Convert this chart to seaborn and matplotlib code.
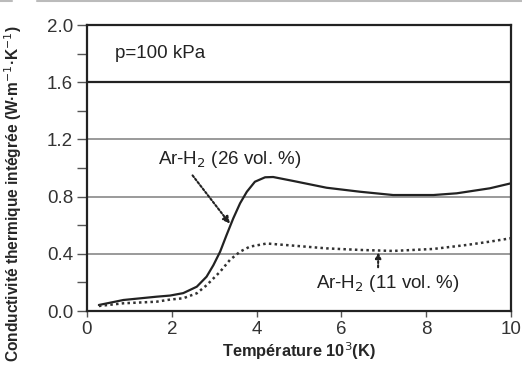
import matplotlib
matplotlib.use("Agg")
import matplotlib.pyplot as plt
from matplotlib.lines import Line2D
import seaborn as sns
import pandas as pd

# Data
temp_26 = [0.28, 0.86, 1.64, 1.96, 2.27, 2.59, 2.82, 2.98, 3.14, 3.29, 3.45, 3.61, 3.77,
           3.96, 4.20, 4.39, 4.87, 5.65, 6.44, 7.22, 8.17, 8.72, 9.50, 10.0]
cond_26 = [0.042, 0.077, 0.100, 0.108, 0.125, 0.17, 0.24, 0.32, 0.415, 0.53, 0.648, 0.753, 0.834,
           0.904, 0.935, 0.937, 0.909, 0.862, 0.834, 0.811, 0.811, 0.823, 0.858, 0.893]
temp_11 = [0.28, 0.86, 1.64, 1.96, 2.27, 2.59, 2.82, 3.14, 3.37, 3.61, 3.84, 4.24, 4.87,
           5.65, 6.44, 7.22, 8.17, 8.96, 9.50, 9.98]
cond_11 = [0.035, 0.054, 0.065, 0.08, 0.089, 0.124, 0.18, 0.275, 0.357, 0.415, 0.45, 0.472, 0.457,
           0.438, 0.427, 0.42, 0.434, 0.462, 0.485, 0.508]
x_ticks = [0, 2, 4, 6, 8, 10]
y_ticks = [0.0, 0.4, 0.8, 1.2, 1.6, 2.0]
y_minor = [0.2, 0.6, 1.0, 1.4, 1.8]

sns.set_style("white")
plt.rcParams['font.family'] = ['Liberation Sans', 'DejaVu Sans']

df26 = pd.DataFrame({"T": temp_26, "k": cond_26})
df11 = pd.DataFrame({"T": temp_11, "k": cond_11})

fig = plt.figure(figsize=(5.22, 3.69), dpi=100)
ax = fig.add_axes([87/522, 1-311/369, (511-87)/522, (311-25)/369])

# grid lines
for yv in [0.4, 0.8, 1.2]:
    ax.axhline(yv, color="#9a9a9a", lw=1.4, zorder=1)
ax.axhline(1.6, color="#222222", lw=1.6, zorder=1)

sns.lineplot(data=df26, x="T", y="k", ax=ax, color="#222222", lw=1.6, zorder=3)
sns.lineplot(data=df11, x="T", y="k", ax=ax, color="#333333", lw=1.8,
             linestyle=(0, (1, 1.3)), zorder=3)

ax.set_xlim(0, 10)
ax.set_ylim(0, 2.0)
ax.set_xticks(x_ticks)
ax.set_xticklabels([str(v) for v in x_ticks])
ax.set_yticks(y_ticks)
ax.set_yticklabels([f"{v:.1f}" for v in y_ticks])
ax.set_yticks(y_minor, minor=True)
ax.tick_params(axis="y", which="both", direction="out", length=7, width=1.0,
               color="#555555", left=True, labelsize=13.5, labelcolor="#333333", pad=3)
ax.tick_params(axis="x", which="major", direction="out", length=4, width=1.0,
               color="#555555", bottom=True, labelsize=13.5, labelcolor="#333333", pad=3)

for s in ax.spines.values():
    s.set_color("#222222")
    s.set_linewidth(1.6)
    s.set_visible(True)

ax.set_xlabel("Température 10$^{3}$(K)", fontsize=11.8, fontweight="bold", labelpad=2)
ax.set_ylabel("Conductivité thermique intégrée (W·m$^{-1}$·K$^{-1}$)",
              fontsize=11.2, fontweight="bold")
ax.yaxis.set_label_coords(-0.148, 0.41)

ax.text(0.66, 1.80, "p=100 kPa", fontsize=13.5, color="#222222", va="center", ha="left")

ax.annotate("Ar-H$_2$ (26 vol. %)", xy=(3.37, 0.61), xytext=(3.37, 1.06),
            fontsize=13.5, color="#222222", ha="center", va="center",
            arrowprops=dict(arrowstyle="-|>", linestyle=(0, (1, 1)), color="#222222",
                            lw=1.5, shrinkA=2, shrinkB=0, mutation_scale=10,
                            relpos=(0.21, 0.0)))
ax.annotate("Ar-H$_2$ (11 vol. %)", xy=(6.87, 0.41), xytext=(7.1, 0.19),
            fontsize=13.5, color="#222222", ha="center", va="center",
            arrowprops=dict(arrowstyle="-|>", linestyle=(0, (1, 1)), color="#222222",
                            lw=1.5, shrinkA=2, shrinkB=0, mutation_scale=8,
                            relpos=(0.43, 1.0)))

# thin gray border at top of image
fig.add_artist(Line2D([0, 12/522], [0.997, 0.997], color="#bbbbbb", lw=1.5))
fig.add_artist(Line2D([37/522, 1], [0.997, 0.997], color="#bbbbbb", lw=1.5))

fig.savefig("out.png", dpi=100)
